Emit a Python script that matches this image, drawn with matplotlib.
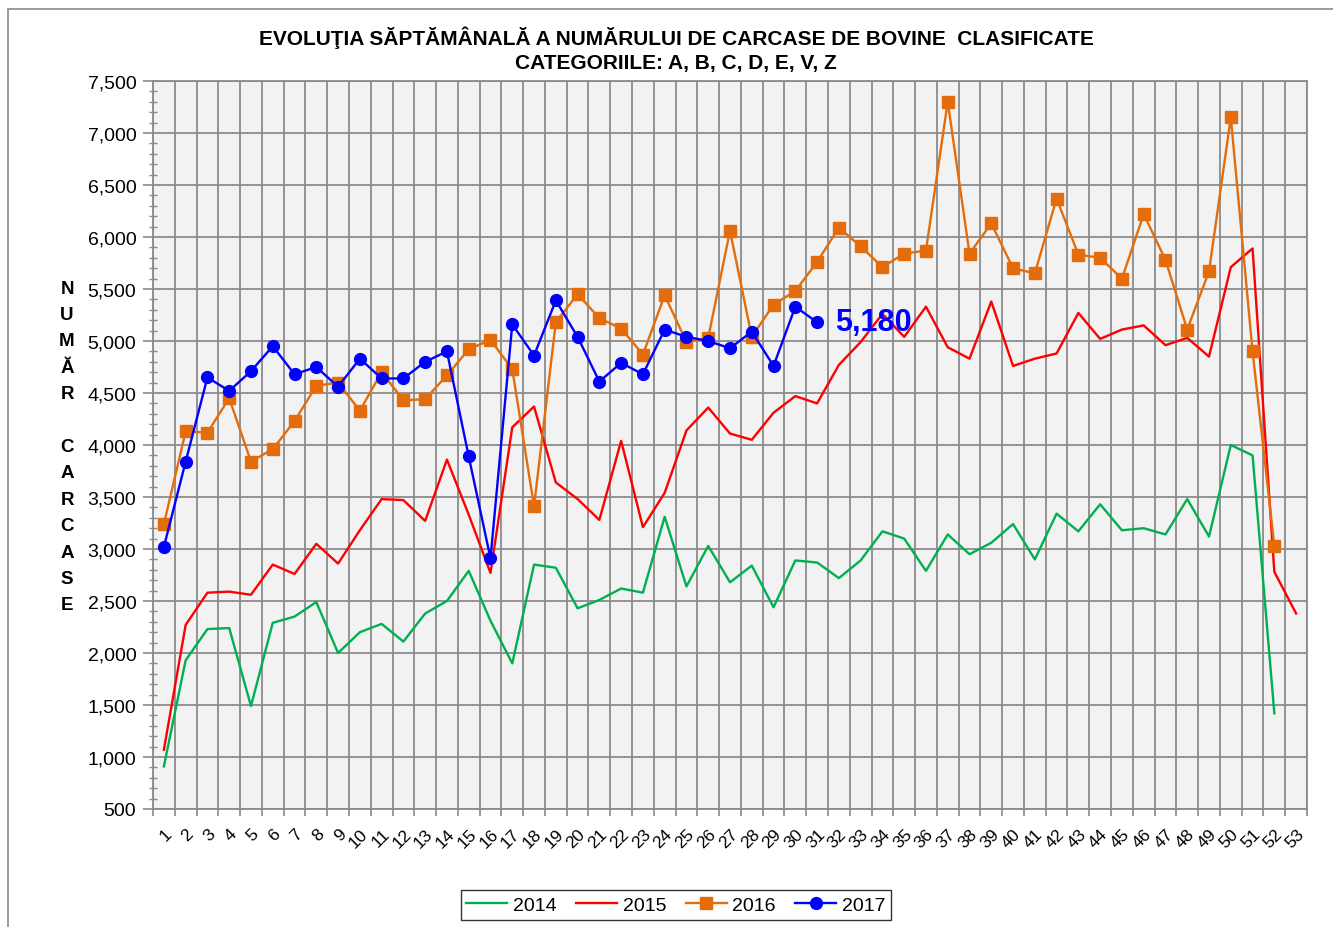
import matplotlib
matplotlib.use('agg')
import matplotlib.pyplot as plt
from matplotlib.patches import Rectangle
from matplotlib.ticker import MultipleLocator, FuncFormatter
import numpy as np

plt.rcParams['font.family'] = ['Liberation Sans', 'DejaVu Sans']

# weekly number of classified bovine carcasses
y2014 = [910, 1930, 2230, 2240, 1490, 2290, 2350, 2490, 2000, 2200,
         2280, 2110, 2380, 2500, 2790, 2310, 1900, 2850, 2820, 2430,
         2510, 2620, 2580, 3310, 2640, 3030, 2680, 2840, 2440, 2890,
         2870, 2720, 2890, 3170, 3100, 2790, 3140, 2950, 3060, 3240,
         2900, 3340, 3170, 3430, 3180, 3200, 3140, 3480, 3120, 4000,
         3900, 1420]
y2015 = [1070, 2270, 2580, 2590, 2560, 2850, 2760, 3050, 2860, 3180,
         3480, 3470, 3270, 3860, 3330, 2770, 4170, 4370, 3640, 3480,
         3280, 4040, 3210, 3540, 4140, 4360, 4110, 4050, 4310, 4470,
         4400, 4770, 4990, 5260, 5040, 5330, 4940, 4830, 5380, 4760,
         4830, 4880, 5270, 5020, 5110, 5150, 4960, 5030, 4850, 5710,
         5890, 2780, 2380]
y2016 = [3240, 4130, 4120, 4450, 3840, 3960, 4230, 4570, 4600, 4330,
         4700, 4430, 4440, 4670, 4920, 5010, 4730, 3410, 5180, 5450,
         5220, 5120, 4870, 5440, 4990, 5030, 6060, 5040, 5350, 5480,
         5760, 6090, 5910, 5710, 5840, 5870, 7300, 5840, 6130, 5700,
         5650, 6370, 5830, 5800, 5600, 6220, 5780, 5110, 5670, 7150,
         4900, 3030]
y2017 = [3020, 3840, 4650, 4520, 4710, 4950, 4680, 4750, 4560, 4830,
         4640, 4640, 4800, 4900, 3890, 2910, 5160, 4860, 5390, 5040,
         4610, 4790, 4680, 5110, 5040, 5000, 4930, 5090, 4760, 5330,
         5180]
weeks = list(range(1, 54))
ylabel_letters = ['N', 'U', 'M', 'Ă', 'R', '', 'C', 'A', 'R', 'C', 'A', 'S', 'E']

W, H = 1333, 928
fig = plt.figure(figsize=(W / 100, H / 100), dpi=100)
fig.patches.append(Rectangle((8 / W, -0.1), 1.2, 1 - 10 / H + 0.1, transform=fig.transFigure,
                             fill=False, edgecolor='#8a8a8a', linewidth=1.2))

ax = fig.add_axes([153 / W, 1 - 810 / H, (1307 - 153) / W, (810 - 82) / H])
ax.set_facecolor('#f2f2f2')

ax.plot(weeks[:len(y2014)], y2014, color='#00b050', lw=1.7, label='2014', zorder=3)
ax.plot(weeks[:len(y2015)], y2015, color='#ff0000', lw=1.7, label='2015', zorder=3)
ax.plot(weeks[:len(y2016)], y2016, color='#e46c0a', lw=1.7, marker='s', ms=8,
        label='2016', zorder=4)
ax.plot(weeks[:len(y2017)], y2017, color='#0000ff', lw=1.7, marker='o', ms=8.5,
        label='2017', zorder=5)

ax.annotate(f'{y2017[-1]:,}', (len(y2017), y2017[-1]), xytext=(13, 0), textcoords='offset points',
            color='#0000ff', fontsize=22, fontweight='bold', va='center', ha='left', zorder=6)

ax.set_xlim(0.5, 53.5)
ax.set_ylim(500, 7500)
ax.set_xticks(weeks)
ax.set_xticks(np.arange(0.5, 54, 1), minor=True)
ax.set_xticklabels([str(w) for w in weeks], rotation=45, ha='right', va='top',
                   rotation_mode='anchor', fontsize=12.5)
ax.tick_params(axis='x', which='major', length=0, pad=12)
ax.tick_params(axis='x', which='minor', length=5, width=1.2, color='#8a8a8a', direction='out')
ax.yaxis.set_major_locator(MultipleLocator(500))
ax.yaxis.set_minor_locator(MultipleLocator(100))
ax.yaxis.set_major_formatter(FuncFormatter(lambda v, p: f'{int(v):,}'))
ax.tick_params(axis='y', which='major', length=7, width=1.2, color='#8a8a8a', labelsize=14, pad=5)
ax.tick_params(axis='y', which='minor', length=6, width=1, color='#8a8a8a', direction='inout')

ax.grid(True, which='major', axis='y', color='#8c8c8c', lw=1.3)
ax.grid(True, which='minor', axis='x', color='#8c8c8c', lw=1.3)
ax.set_axisbelow(True)
for s in ax.spines.values():
    s.set_color('#8a8a8a')
    s.set_linewidth(1.3)

fig.text(676 / W, 1 - 38 / H, 'EVOLUŢIA SĂPTĂMÂNALĂ A NUMĂRULUI DE CARCASE DE BOVINE  CLASIFICATE',
         ha='center', va='center', fontsize=15, fontweight='bold')
fig.text(676 / W, 1 - 64 / H, 'CATEGORIILE: A, B, C, D, E, V, Z',
         ha='center', va='center', fontsize=15, fontweight='bold')

for i, ch in enumerate(ylabel_letters):
    fig.text(67 / W, 1 - (289 + i * 26.4) / H, ch, ha='center', va='center',
             fontsize=13.5, fontweight='bold')

leg = fig.legend(loc='center', bbox_to_anchor=(676 / W, 1 - 906 / H), ncol=4, fontsize=14,
                 frameon=True, fancybox=False, edgecolor='black', handlelength=2.1,
                 columnspacing=1.0, handletextpad=0.3, borderpad=0.3)
leg.get_frame().set_linewidth(1.0)

fig.savefig('out.png', dpi=100)
